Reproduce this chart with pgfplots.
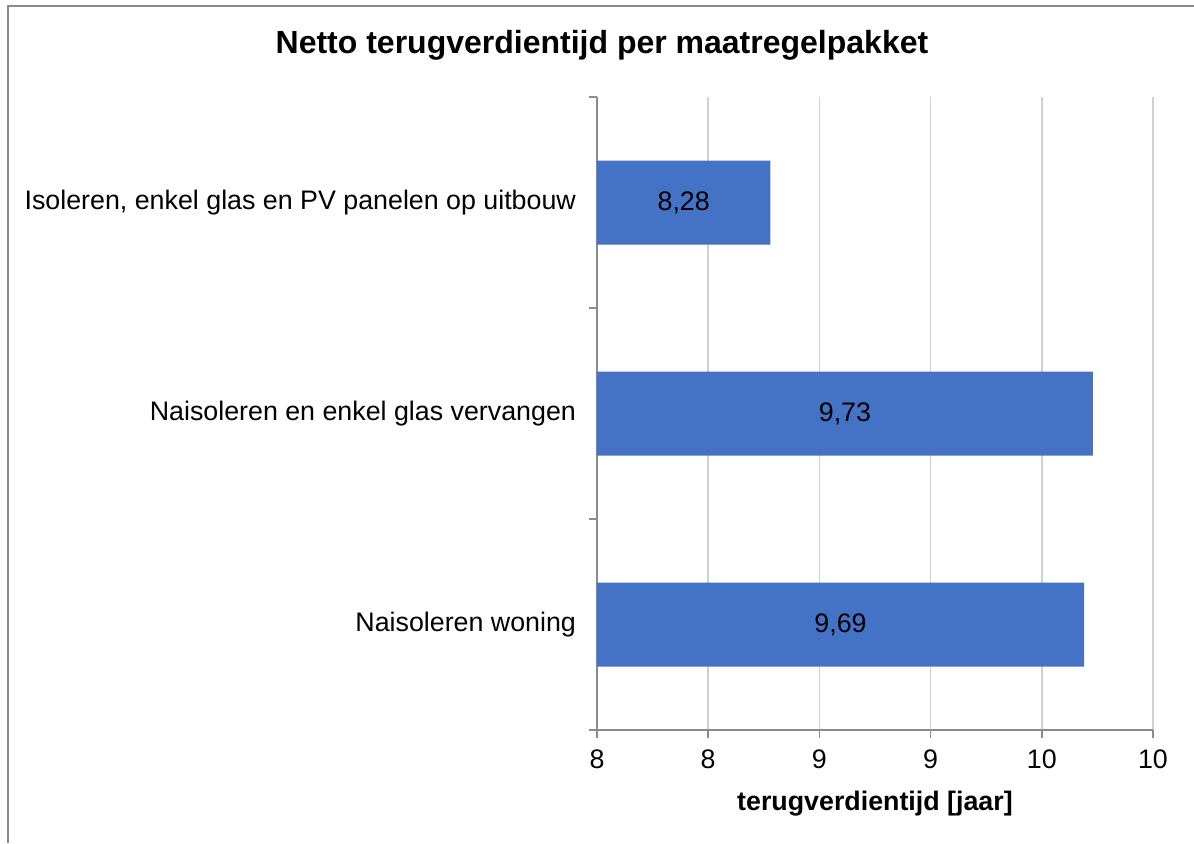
\documentclass[border=0pt]{standalone}
\usepackage{pgfplots}
\pgfplotsset{compat=1.18}
\usepackage{pgfplotstable}
\usepackage{fontspec}
\setmainfont{Liberation Sans}
\definecolor{barblue}{HTML}{4472C4}
\definecolor{gridgray}{HTML}{D0D0D0}
\definecolor{axisgray}{HTML}{8C8C8C}
\definecolor{framegray}{HTML}{8A8A8A}
\pgfplotstableread{
y val
0 9.69
1 9.73
2 8.28
}\datatab
\pgfplotstableread{
x y lab
8.595 0 9,69
8.615 1 9,73
7.89 2 8,28
}\labtab
\begin{document}
\begin{tikzpicture}[x=1pt,y=1pt]
\useasboundingbox (-298.5,-56.5) rectangle (298.5,365);
\draw[framegray, line width=1pt] (-294.5,-56.5) -- (-294.5,362) -- (298.5,362);
\begin{axis}[
  at={(0,0)}, anchor=south west,
  width=278pt, height=316.5pt, scale only axis,
  xmin=7.5, xmax=10, ymin=-0.5, ymax=2.5,
  xtick={7.5,8,8.5,9,9.5,10}, xticklabels={8,8,9,9,10,10},
  ytick={-0.5,0.5,1.5,2.5}, yticklabels={},
  extra y ticks={0,1,2},
  extra y tick labels={Naisoleren woning, Naisoleren en enkel glas vervangen, {Isoleren, enkel glas en PV panelen op uitbouw}},
  extra y tick style={tick style={draw=none}, yticklabel style={xshift=-3pt}},
  axis x line*=bottom, axis y line*=left,
  axis line style={-, axisgray, line width=0.8pt},
  tick style={axisgray, line width=0.8pt},
  tick align=outside, major tick length=4pt,
  xmajorgrids, major grid style={gridgray, line width=0.8pt},
  ymajorgrids=false,
  tick label style={font=\fontsize{13.4}{16}\selectfont, text=black},
  xticklabel style={yshift=-2.5pt},
  xlabel={\bfseries terugverdientijd [jaar]},
  x label style={font=\fontsize{13.4}{16}\selectfont, at={(axis description cs:0.5,0)}, anchor=center, yshift=-37pt},
]
\addplot[xbar, bar width=42pt, bar shift=0pt, fill=barblue, draw=none] table[x=val,y=y] {\datatab};
\addplot[draw=none, nodes near coords, point meta=explicit symbolic,
  every node near coord/.style={anchor=center, font=\fontsize{13.4}{16}\selectfont, text=black}]
  table[x=x,y=y,meta=lab] {\labtab};
\end{axis}
\node[font=\fontsize{16}{19}\selectfont\bfseries] at (2.5,342.5) {Netto terugverdientijd per maatregelpakket};
\end{tikzpicture}
\end{document}
